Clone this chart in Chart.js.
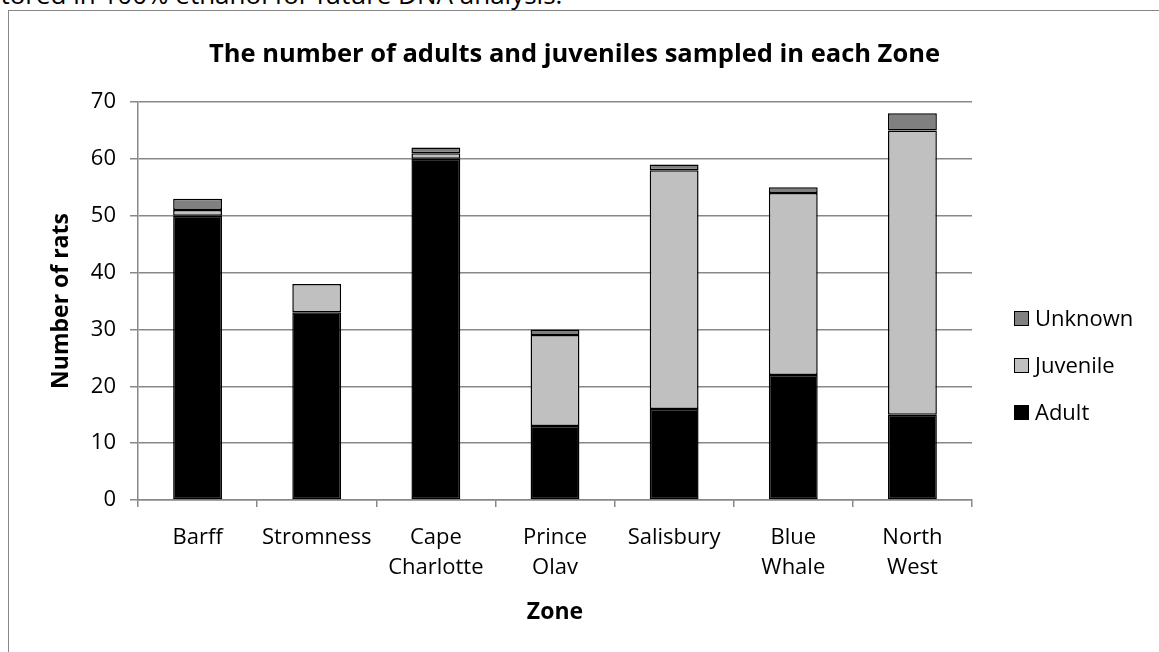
<!DOCTYPE html>
<html>
<head>
<meta charset="utf-8">
<script src="https://cdn.jsdelivr.net/npm/chart.js@4/dist/chart.umd.min.js"></script>
<style>
  html, body { margin: 0; padding: 0; background: #fff; overflow: hidden; }
  #page { position: relative; width: 1159px; height: 652px; }
  #intro {
    position: absolute; left: -12px; top: -19px; white-space: nowrap;
    font: 26px "Open Sans", sans-serif; line-height: 1; color: #000;
  }
  #frame {
    position: absolute; left: 8px; top: 10px; width: 1300px; height: 800px;
    border: 1px solid #888;
  }
  #chartBox { position: absolute; left: 0; top: 0; width: 1159px; height: 652px; }
</style>
</head>
<body>
<div id="page">
  <div id="intro">stored in 100% ethanol for future DNA analysis.</div>
  <div id="frame"></div>
  <div id="chartBox"><canvas id="zoneChart"></canvas></div>
</div>
<script>
// Rats sampled per zone, split by age class
const zones = [
    'Barff', 'Stromness', ['Cape', 'Charlotte'], ['Prince', 'Olav'],
    'Salisbury', ['Blue', 'Whale'], ['North', 'West']
];
const adults    = [50, 33, 60, 13, 16, 22, 15];
const juveniles = [ 1,  5,  1, 16, 42, 32, 50];
const unknowns  = [ 2,  0,  1,  1,  1,  1,  3];
const yTicks = [0, 10, 20, 30, 40, 50, 60, 70];
const chartTitle = 'The number of adults and juveniles sampled in each Zone';

const FONT = '"Open Sans", sans-serif';

// Title centred over the whole frame, legend to the right of the plot
// (Excel style: top legend item = last series)
const frameDecor = {
    id: 'frameDecor',
    afterDraw(chart) {
        const ctx = chart.ctx;
        const area = chart.chartArea;
        ctx.save();

        ctx.font = 'bold 25.5px ' + FONT;
        ctx.fillStyle = '#000';
        ctx.textAlign = 'center';
        ctx.textBaseline = 'middle';
        ctx.fillText(chartTitle, (8 + chart.width - 18) / 2, 55);

        const items = chart.data.datasets.slice().reverse();
        const x = area.right + 42;
        const y0 = 318.5;
        ctx.font = '22px ' + FONT;
        ctx.textAlign = 'left';
        items.forEach((ds, i) => {
            const y = y0 + i * 47;
            ctx.fillStyle = ds.backgroundColor;
            ctx.fillRect(x, y - 7.5, 15, 15);
            ctx.strokeStyle = '#000';
            ctx.lineWidth = 1;
            ctx.strokeRect(x + 0.5, y - 7, 14, 14);
            ctx.fillStyle = '#000';
            ctx.fillText(ds.label, x + 21, y + 1);
        });
        ctx.restore();
    }
};

function initChart() {
    const ctx = document.getElementById('zoneChart').getContext('2d');
    const barStyle = {
        borderColor: '#000',
        borderWidth: 1.5,
        borderSkipped: false,
        categoryPercentage: 1,
        barPercentage: 0.41
    };
    return new Chart(ctx, {
        type: 'bar',
        data: {
            labels: zones,
            datasets: [
                { label: 'Adult', data: adults, backgroundColor: '#000000', ...barStyle },
                { label: 'Juvenile', data: juveniles, backgroundColor: '#c0c0c0', ...barStyle },
                { label: 'Unknown', data: unknowns, backgroundColor: '#808080', ...barStyle }
            ]
        },
        options: {
            responsive: true,
            maintainAspectRatio: false,
            animation: false,
            layout: { padding: { left: 8, right: 187, top: 102, bottom: 0 } },
            plugins: {
                legend: { display: false },
                tooltip: { enabled: false },
                title: { display: false }
            },
            scales: {
                x: {
                    stacked: true,
                    afterFit: s => { s.height = 152; },
                    border: { color: '#888', width: 1.5 },
                    grid: { offset: true, drawOnChartArea: false, color: '#888', lineWidth: 1.5, tickLength: 7 },
                    ticks: {
                        color: '#000',
                        padding: 15,
                        maxRotation: 0,
                        autoSkip: false,
                        font: { family: FONT, size: 22, lineHeight: 1.4 }
                    },
                    title: {
                        display: true,
                        text: 'Zone',
                        color: '#000',
                        font: { family: FONT, size: 23, weight: 'bold', lineHeight: 1.2 },
                        padding: { top: 0, bottom: 26 }
                    }
                },
                y: {
                    stacked: true,
                    min: 0,
                    max: 70,
                    afterFit: s => { s.width = 130; },
                    afterBuildTicks: s => { s.ticks = yTicks.map(v => ({ value: v })); },
                    border: { color: '#888', width: 1.5 },
                    grid: { color: '#888', lineWidth: 1.5, tickLength: 8 },
                    ticks: {
                        color: '#000',
                        padding: 14,
                        font: { family: FONT, size: 22 }
                    },
                    title: {
                        display: true,
                        text: 'Number of rats',
                        color: '#000',
                        font: { family: FONT, size: 23, weight: 'bold', lineHeight: 1.2 },
                        padding: { top: 40, bottom: 0 }
                    }
                }
            }
        },
        plugins: [frameDecor]
    });
}

initChart();
</script>
</body>
</html>
